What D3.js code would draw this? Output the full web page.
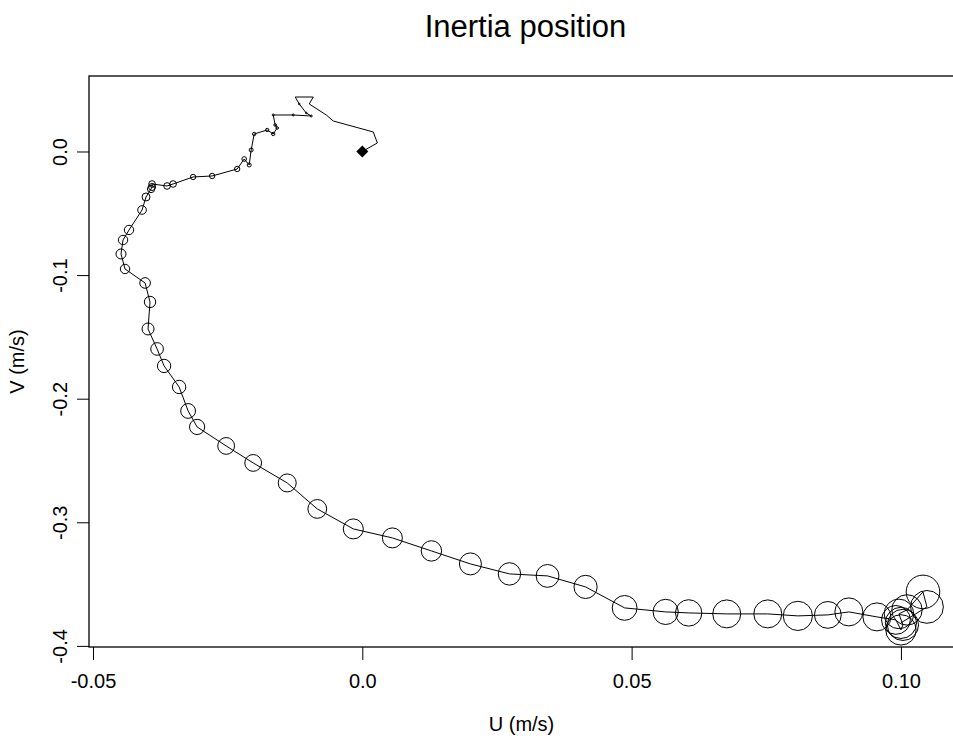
<!DOCTYPE html>
<html><head><meta charset="utf-8">
<script src="https://cdn.jsdelivr.net/npm/d3@7"></script>
<style>body{margin:0;background:#fff}svg{display:block}text{font-family:"Liberation Sans",Arial,sans-serif;fill:#000}</style>
</head><body>
<svg id="c" width="953" height="742"></svg>
<script>
const U = [0,0.00279,0.00204,-0.00539,-0.00669,-0.00985,-0.00911,-0.01245,-0.01171,-0.01041,-0.00948,-0.01283,-0.01654,-0.01617,-0.01580,-0.01654,-0.01766,-0.02007,-0.02063,-0.02100,-0.02193,-0.02323,-0.02788,-0.03141,-0.03513,-0.03625,-0.03903,-0.03903,-0.03922,-0.04015,-0.04089,-0.04331,-0.04442,-0.04480,-0.04405,-0.04033,-0.03941,-0.03978,-0.03810,-0.03680,-0.03401,-0.03234,-0.03067,-0.02528,-0.02026,-0.01394,-0.00836,-0.00167,0.00558,0.01283,0.02007,0.02732,0.03439,0.04145,0.04870,0.05632,0.06059,0.06766,0.07528,0.08086,0.08643,0.09033,0.09554,0.09907,0.10000,0.10037,0.09963,0.10112,0.10409,0.10483,0.10000];
const V = [0,0.00688,0.01577,0.02467,0.02953,0.03842,0.04408,0.04408,0.03842,0.03115,0.02871,0.02952,0.02952,0.02143,0.01901,0.01416,0.01739,0.01416,0.00121,-0.01092,-0.00607,-0.01416,-0.01982,-0.02063,-0.02629,-0.02791,-0.02629,-0.02872,-0.03033,-0.03680,-0.04732,-0.06350,-0.07159,-0.08291,-0.09504,-0.10637,-0.12174,-0.14358,-0.15976,-0.17351,-0.19050,-0.20991,-0.22285,-0.23822,-0.25197,-0.26815,-0.28918,-0.30536,-0.31264,-0.32316,-0.33367,-0.34176,-0.34338,-0.35228,-0.36926,-0.37250,-0.37331,-0.37411,-0.37411,-0.37573,-0.37492,-0.37250,-0.37654,-0.37897,-0.38705,-0.38301,-0.37412,-0.37088,-0.35632,-0.36845,-0.38139];
// marker size (cex-like) per point
const SIZE = [0,0,0,0,0,0,0,0,0.2,0.2,0.25,0.25,0.25,0.33,0.33,0.42,0.42,0.42,0.5,0.5,0.58,0.67,0.67,0.67,0.83,0.83,0.83,0.88,0.92,1.0,1.08,1.17,1.17,1.25,1.17,1.33,1.42,1.5,1.58,1.67,1.67,1.85,1.9,2.1,2.1,2.25,2.35,2.5,2.5,2.55,2.75,2.8,2.85,2.9,3.1,3.15,3.3,3.5,3.5,3.65,3.35,3.5,3.5,3.6,3.8,3.9,3.7,3.8,4.2,4.1,3.9];
const xTicks = [-0.05,0.0,0.05,0.10];
const yTicks = [0.0,-0.1,-0.2,-0.3,-0.4];
const xTickLabels = ["-0.05","0.0","0.05","0.10"];
const yTickLabels = ["0.0","-0.1","-0.2","-0.3","-0.4"];
const title = "Inertia position", xLabel = "U (m/s)", yLabel = "V (m/s)";

const L=89, R=954, T=76, B=647;
const x = d3.scaleLinear().domain([-0.05074,0.10985]).range([L,R]);
const y = d3.scaleLinear().domain([0.06107,-0.40089]).range([T,B]);
const r = d3.scaleLinear().domain([0,1]).range([0,4]);
const svg = d3.select("#c");
const pts = U.map((u,i)=>({u, v:V[i], s:SIZE[i]}));

svg.append("rect").attr("x",L).attr("y",T).attr("width",R-L).attr("height",B-T)
  .attr("fill","none").attr("stroke","#000").attr("stroke-width",1.3);

// axes
const gx = svg.append("g").attr("transform",`translate(0,${B})`)
  .call(d3.axisBottom(x).tickValues(xTicks).tickSize(13).tickPadding(14).tickFormat((d,i)=>xTickLabels[i]));
gx.select(".domain").remove();
gx.selectAll("text").attr("font-size",20).attr("font-family","Liberation Sans, Arial, sans-serif").attr("dy","0.71em");
gx.selectAll("line").attr("stroke","#000");
const gy = svg.append("g").attr("transform",`translate(${L},0)`)
  .call(d3.axisLeft(y).tickValues(yTicks).tickSize(12).tickFormat((d,i)=>yTickLabels[i]));
gy.select(".domain").remove();
gy.selectAll("line").attr("stroke","#000");
gy.selectAll("text").attr("font-size",20).attr("font-family","Liberation Sans, Arial, sans-serif")
  .attr("text-anchor","middle").attr("x",null).attr("dy",null)
  .attr("transform","translate(-22,0) rotate(-90)").attr("y",0);

// path
svg.append("path").datum(pts)
  .attr("d", d3.line().x(d=>x(d.u)).y(d=>y(d.v)))
  .attr("fill","none").attr("stroke","#000").attr("stroke-width",1);
svg.append("g").selectAll("circle").data(pts.filter((d,i)=>i>0 && d.s>0)).join("circle")
  .attr("cx",d=>x(d.u)).attr("cy",d=>y(d.v)).attr("r",d=>r(d.s))
  .attr("fill","none").attr("stroke","#000").attr("stroke-width",1);
svg.append("path").attr("d","M0,-6L6,0L0,6L-6,0Z")
  .attr("transform",`translate(${x(U[0])},${y(V[0])})`).attr("fill","#000");

// labels
const cx=(L+R)/2;
svg.append("text").attr("x",cx+4).attr("y",37).attr("text-anchor","middle").attr("font-size",31).text(title);
svg.append("text").attr("x",cx).attr("y",731).attr("text-anchor","middle").attr("font-size",20).text(xLabel);
svg.append("text").attr("transform",`translate(24,${(T+B)/2}) rotate(-90)`).attr("text-anchor","middle").attr("font-size",20).text(yLabel);
</script>
</body></html>
